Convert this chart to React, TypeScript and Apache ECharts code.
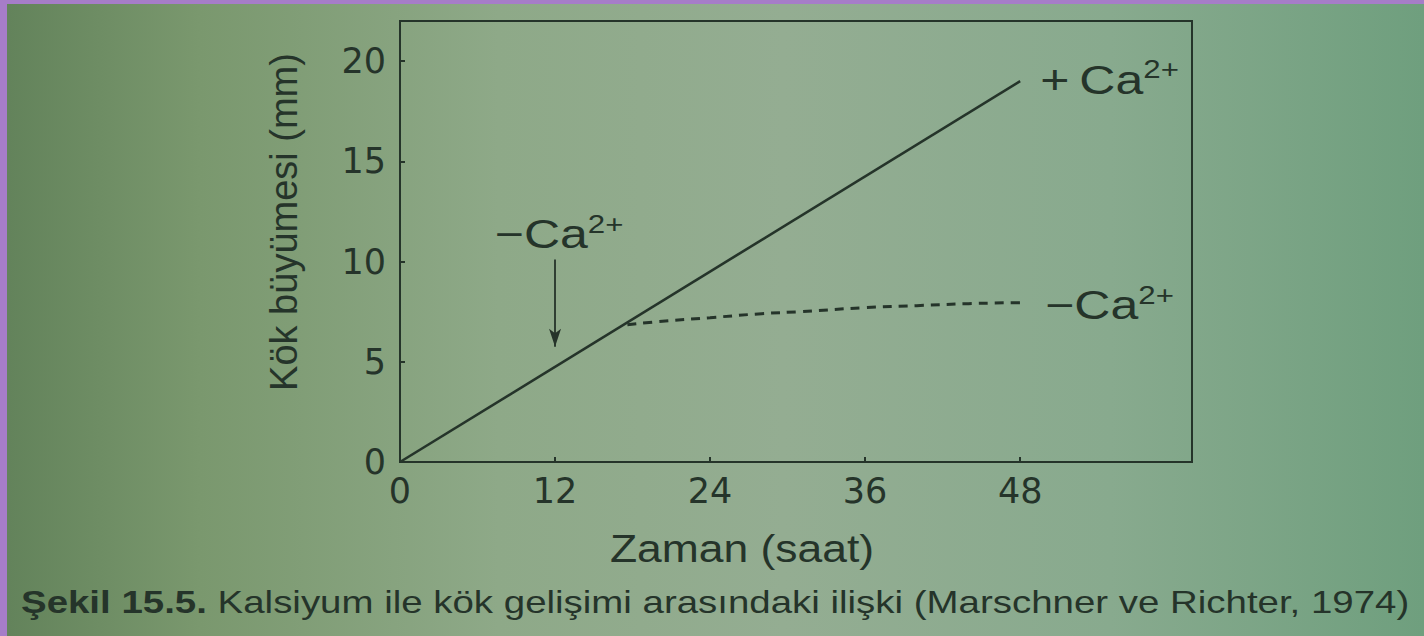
import React, { useEffect, useRef } from "react";
import * as echarts from "echarts";

const withCa: [number, number][] = [
  [0, 0],
  [48, 19],
];
const withoutCa: [number, number][] = [
  [17.6, 6.85],
  [20, 7.0],
  [24, 7.2],
  [28, 7.4],
  [31, 7.5],
  [36, 7.7],
  [40, 7.8],
  [44, 7.9],
  [48, 7.95],
];
const xTicks = [0, 12, 24, 36, 48];
const yTicks = [0, 5, 10, 15, 20];
const arrowX = 12;
const arrowFrom = 10.1;
const arrowTo = 5.75;

const INK = "#25342a";
const FONT = "'Liberation Sans', Arial, sans-serif";
const TICKFONT = "'DejaVu Sans', 'Liberation Sans', sans-serif";
const STRETCH = 1.25;

const caRich = {
  s: { fontSize: 40, fontFamily: FONT, fill: INK, lineHeight: 46 },
  c: { fontSize: 40, fontFamily: FONT, fill: INK, lineHeight: 46 },
  p: { fontSize: 25, fontFamily: FONT, fill: INK, lineHeight: 22, verticalAlign: "top" },
};

function caLabel(id: string, sign: string, x: number, y: number, align: string) {
  return {
    type: "text",
    id,
    x,
    y,
    scaleX: STRETCH,
    z: 50,
    style: {
      text: `{s|${sign}}{c|Ca}{p|2+}`,
      rich: caRich,
      align,
      verticalAlign: "middle",
    },
  };
}

export default function App() {
  const ref = useRef<HTMLDivElement>(null);
  useEffect(() => {
    if (!ref.current) return;
    const chart = echarts.init(ref.current, null, { renderer: "svg" });
    chart.setOption({
      animation: false,
      backgroundColor: "transparent",
      grid: {
        left: 400,
        right: 232,
        top: 21,
        bottom: 174,
        show: true,
        borderColor: INK,
        borderWidth: 2,
      },
      xAxis: {
        type: "value",
        min: 0,
        max: 61.3,
        interval: 12,
        splitLine: { show: false },
        axisLine: { lineStyle: { color: INK, width: 2 } },
        axisTick: { customValues: xTicks, inside: true, length: 5, lineStyle: { color: INK, width: 2 } },
        axisLabel: {
          customValues: xTicks,
          fontSize: 35,
          fontFamily: TICKFONT,
          color: INK,
          margin: 11,
        },
      },
      yAxis: {
        type: "value",
        min: 0,
        max: 22,
        interval: 5,
        splitLine: { show: false },
        axisLine: { lineStyle: { color: INK, width: 2 } },
        axisTick: { customValues: yTicks, inside: true, length: 5, lineStyle: { color: INK, width: 2 } },
        axisLabel: {
          customValues: yTicks,
          fontSize: 35,
          fontFamily: TICKFONT,
          color: INK,
          margin: 14,
        },
      },
      series: [
        {
          type: "line",
          name: "+Ca2+",
          data: withCa,
          symbol: "none",
          lineStyle: { color: INK, width: 2.6 },
          markLine: {
            silent: true,
            symbol: ["none", "arrow"],
            symbolSize: [9, 18],
            lineStyle: { color: INK, width: 1.8, type: "solid" },
            label: { show: false },
            data: [[{ coord: [arrowX, arrowFrom] }, { coord: [arrowX, arrowTo] }]],
          },
        },
        {
          type: "line",
          name: "-Ca2+",
          data: withoutCa,
          smooth: true,
          symbol: "none",
          lineStyle: { color: INK, width: 3, type: [9, 7] },
        },
      ],
    });

    const endA = chart.convertToPixel({ gridIndex: 0 }, withCa[withCa.length - 1]) as number[];
    const endB = chart.convertToPixel({ gridIndex: 0 }, withoutCa[withoutCa.length - 1]) as number[];
    const arrowTop = chart.convertToPixel({ gridIndex: 0 }, [arrowX, arrowFrom]) as number[];

    chart.setOption({
      graphic: [
        { type: "rect", id: "bt", shape: { x: 0, y: 0, width: 1424, height: 4 }, style: { fill: "#a67dc8" }, z: 100 },
        { type: "rect", id: "bl", shape: { x: 0, y: 0, width: 7, height: 636 }, style: { fill: "#a67dc8" }, z: 100 },
        caLabel("lblA", "+\u2009", endA[0] + 20, endA[1] - 1, "left"),
        caLabel("lblB", "\u2212", endB[0] + 25, endB[1] + 3, "left"),
        caLabel("lblC", "\u2212", arrowTop[0] + 4, arrowTop[1] - 25, "center"),
        {
          type: "text",
          id: "ytitle",
          x: 284,
          y: 222,
          rotation: Math.PI / 2,
          style: {
            text: "Kök büyümesi (mm)",
            fontSize: 38,
            fontFamily: FONT,
            fill: INK,
            align: "center",
            verticalAlign: "middle",
          },
        },
        {
          type: "text",
          id: "xtitle",
          x: 742,
          y: 548,
          scaleX: 1.14,
          style: {
            text: "Zaman (saat)",
            fontSize: 39,
            fontFamily: FONT,
            fill: INK,
            align: "center",
            verticalAlign: "middle",
          },
        },
        {
          type: "text",
          id: "caption",
          x: 21,
          y: 602,
          scaleX: 1.24,
          style: {
            text: "{b|Şekil 15.5.\u00a0}{r|Kalsiyum ile kök gelişimi arasındaki ilişki (Marschner ve Richter, 1974)}",
            verticalAlign: "middle",
            align: "left",
            rich: {
              b: { fontSize: 31, fontWeight: "bold", fontFamily: FONT, fill: INK },
              r: { fontSize: 31, fontFamily: FONT, fill: INK },
            },
          },
        },
      ],
    });
    return () => chart.dispose();
  }, []);
  return (
    <div
      style={{
        position: "fixed",
        left: 0,
        top: 0,
        width: 1424,
        height: 636,
        background:
          "linear-gradient(90deg, #62825a 0%, #7a986e 14%, #8ea988 35%, #94ad92 55%, #88aa8e 78%, #6f9f7e 100%)",
      }}
    >
      <div ref={ref} style={{ width: 1424, height: 636 }} />
    </div>
  );
}
